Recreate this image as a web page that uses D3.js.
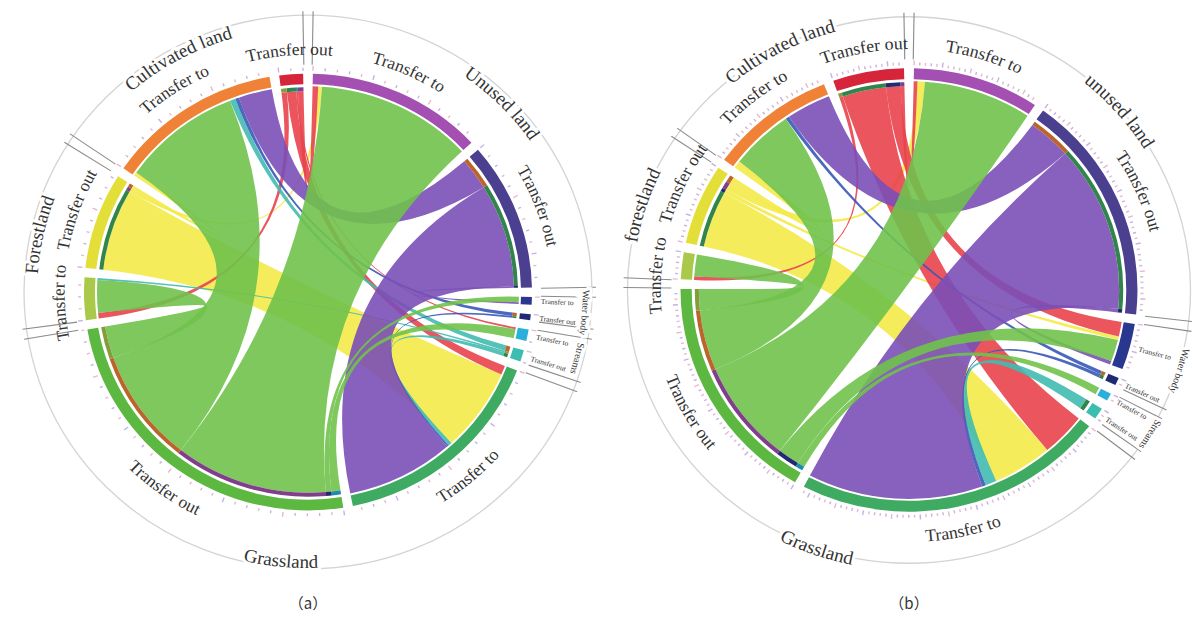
<!DOCTYPE html>
<html>
<head>
<meta charset="utf-8">
<script src="https://cdn.jsdelivr.net/npm/d3@7"></script>
<style>
  body { margin: 0; background: #fff; }
  svg text { font-family: "Liberation Serif", "DejaVu Serif", serif; }
</style>
</head>
<body>
<svg id="chart" width="1192" height="620"></svg>
<script>
// Land-use categories, in clockwise order round each circle.
const landKeys = ["unused", "water", "streams", "grass", "forest", "cult"];
const landNamesA = ["Unused land", "Water body", "Streams", "Grassland", "Forestland", "Cultivated land"];
const landNamesB = ["unused land", "Water body", "Streams", "Grassland", "forestland", "Cultivated land"];
const directions = ["Transfer to", "Transfer out"];
const captions = ["（a）", "（b）"];

// Land transfers: [from land (transfer out), to land (transfer to), area]
const flowsA = [
  ["grass", "unused", 42], ["grass", "cult", 32], ["grass", "forest", 9],
  ["grass", "streams", 2.5], ["grass", "water", 1.5],
  ["unused", "grass", 29], ["unused", "cult", 9], ["unused", "water", 0.5],
  ["forest", "grass", 23], ["forest", "cult", 1], ["forest", "unused", 1],
  ["cult", "grass", 2.5], ["cult", "unused", 1.5], ["cult", "forest", 1.5], ["cult", "streams", 0.5],
  ["water", "grass", 0.5], ["water", "cult", 1],
  ["streams", "grass", 1], ["streams", "cult", 1.5], ["streams", "forest", 0.5]
];
const flowsB = [
  ["grass", "unused", 29], ["grass", "cult", 17], ["grass", "forest", 6],
  ["grass", "water", 6], ["grass", "streams", 2],
  ["unused", "grass", 47], ["unused", "cult", 12], ["unused", "water", 1],
  ["forest", "grass", 16], ["forest", "cult", 2], ["forest", "unused", 2], ["forest", "water", 1],
  ["cult", "grass", 12], ["cult", "water", 4], ["cult", "unused", 1], ["cult", "forest", 1],
  ["water", "grass", 1], ["water", "cult", 1],
  ["streams", "grass", 3]
];

const toColors = { unused: "#a44fb2", water: "#2a3790", streams: "#2bb0dc", grass: "#3fab62", forest: "#aac94a", cult: "#ef8237" };
const outColors = { unused: "#4b3f8f", water: "#1f2b70", streams: "#3bbdb0", grass: "#5cb840", forest: "#e4df38", cult: "#d6243a" };
const ribbonColors = { unused: "#7b4fb6", water: "#3a58b8", streams: "#41bbb0", grass: "#70c24c", forest: "#f4ea4a", cult: "#e8434d" };
const ribbonLayer = ["forest", "cult", "streams", "water", "unused", "grass"];
const smallLands = ["water", "streams"];

const svg = d3.select("#chart");
const TAU = 2 * Math.PI;
let pathId = 0;

const nodeIndex = (land, dir) => landKeys.indexOf(land) * 2 + (dir === "out" ? 1 : 0);
const wrap = x => ((x % TAU) + TAU) % TAU;

// push apart labels that share a ring so that they do not collide
function spread(items, gap) {
  const list = items.slice().sort((p, q) => p.ang - q.ang);
  for (let it = 0; it < 300; it++) {
    let moved = false;
    for (let i = 0; i < list.length; i++) {
      const a = list[i], b = list[(i + 1) % list.length];
      const d = wrap(b.ang - a.ang);
      const need = a.w / 2 + b.w / 2 + gap;
      if (d < need) {
        const m = (need - d) / 2 + 1e-4;
        a.ang -= m; b.ang += m; moved = true;
      }
    }
    if (!moved) break;
  }
  return items;
}

function arcLabel(parent, text, ang, rc, fs, opts = {}) {
  const deg = wrap(ang) * 180 / Math.PI;
  const bottom = !opts.clockwise && deg > 100 && deg < 258;
  const r = bottom ? rc + fs * 0.32 : rc - fs * 0.32;
  const span = 80 * Math.PI / 180;
  const p = t => [r * Math.sin(t), -r * Math.cos(t)];
  let d;
  if (!bottom) {
    const [x0, y0] = p(ang - span), [x1, y1] = p(ang + span);
    d = `M${x0},${y0}A${r},${r} 0 0 1 ${x1},${y1}`;
  } else {
    const [x0, y0] = p(ang + span), [x1, y1] = p(ang - span);
    d = `M${x0},${y0}A${r},${r} 0 0 0 ${x1},${y1}`;
  }
  const id = "lp" + (pathId++);
  parent.append("path").attr("id", id).attr("d", d).attr("fill", "none");
  const layers = opts.halo ? ["halo", "ink"] : ["ink"];
  layers.forEach(layer => {
    const t = parent.append("text").attr("font-size", fs);
    if (layer === "halo") t.attr("fill", "#fff").attr("stroke", "#fff").attr("stroke-width", 6);
    else t.attr("fill", "#333");
    t.append("textPath").attr("href", "#" + id)
      .attr("startOffset", "50%").attr("text-anchor", "middle").text(text);
  });
}

function drawChord(cx, cy, sx, sy, flows, landNames, tickStep, caption, ringR) {
  const R0 = 213, R1 = 224, rRib = 209, rRing = ringR;
  const g = svg.append("g").attr("transform", `translate(${cx},${cy}) scale(${sx},${sy})`);
  const n = landKeys.length * 2;

  const links = flows.map(([from, to, v]) => ({
    from, to, value: v, s: nodeIndex(from, "out"), t: nodeIndex(to, "to")
  }));
  const totals = d3.range(n).map(i => d3.sum(links, l => (l.s === i || l.t === i) ? l.value : 0));
  const pad = 2.5 * Math.PI / 180;
  const k = d3.scaleLinear().domain([0, d3.sum(totals)]).range([0, TAU - n * pad]);

  let a = pad / 2;
  const groups = totals.map((v, i) => {
    const gr = { index: i, land: landKeys[i >> 1], dir: i % 2 ? "out" : "to", value: v,
                 startAngle: a, endAngle: a + k(v) };
    gr.mid = (gr.startAngle + gr.endAngle) / 2;
    a = gr.endAngle + pad;
    return gr;
  });

  // Link order on each sector: outgoing ends follow the partner's position
  // counter-clockwise; incoming ends follow the source sector, last first.
  groups.forEach(gr => {
    let c = gr.startAngle;
    const mine = links.filter(l => l.s === gr.index || l.t === gr.index);
    if (gr.dir === "out") mine.sort((p, q) => wrap(groups[q.t].mid - gr.mid) - wrap(groups[p.t].mid - gr.mid));
    else mine.sort((p, q) => q.s - p.s);
    mine.forEach(l => {
      const e = c + k(l.value);
      if (l.s === gr.index) l.source = { startAngle: c, endAngle: e, radius: rRib - 3 };
      else l.target = { startAngle: c, endAngle: e, radius: rRib + 2 };
      c = e;
    });
  });

  // outer reference ring
  g.append("circle").attr("r", rRing).attr("fill", "none")
    .attr("stroke", "#d4d4d4").attr("stroke-width", 1.3);

  // ribbons
  const ribbon = d3.ribbon();
  const ordered = links.slice().sort((p, q) => ribbonLayer.indexOf(p.from) - ribbonLayer.indexOf(q.from));
  g.append("g").selectAll("path").data(ordered).join("path")
    .attr("d", ribbon)
    .attr("fill", d => ribbonColors[d.from])
    .attr("fill-opacity", 0.9);

  // thin bars at the outgoing end of each link, coloured by destination
  const bar = d3.arc().innerRadius(rRib - 3).outerRadius(rRib + 1);
  g.append("g").selectAll("path").data(links).join("path")
    .attr("d", d => bar(d.source))
    .attr("fill", d => d3.color(toColors[d.to]).darker(0.7));

  // sector arcs
  const arc = d3.arc().innerRadius(R0).outerRadius(R1);
  g.append("g").selectAll("path").data(groups).join("path")
    .attr("d", arc)
    .attr("fill", d => d.dir === "to" ? toColors[d.land] : outColors[d.land]);

  // ticks
  const ticks = groups.flatMap(gr => d3.range(0, gr.value + 1e-6, tickStep)
    .map((v, j) => ({ ang: gr.startAngle + k(v), major: j % 5 === 0 })));
  g.append("g").selectAll("line").data(ticks).join("line")
    .attr("x1", d => (R1 + 3) * Math.sin(d.ang)).attr("y1", d => -(R1 + 3) * Math.cos(d.ang))
    .attr("x2", d => (R1 + (d.major ? 8 : 6)) * Math.sin(d.ang))
    .attr("y2", d => -(R1 + (d.major ? 8 : 6)) * Math.cos(d.ang))
    .attr("stroke", (d, i) => i % 2 ? "#c4b2e6" : "#e6b9d0").attr("stroke-width", 1.4);

  // label brackets for every land type
  const lands = landKeys.map((key, i) => ({
    key, name: landNames[i],
    start: groups[2 * i].startAngle, end: groups[2 * i + 1].endAngle
  }));
  const seps = lands.flatMap(l => [l.start - 0.004, l.end + 0.004]);
  g.append("g").selectAll("line").data(seps).join("line")
    .attr("x1", d => (R1 + 9) * Math.sin(d)).attr("y1", d => -(R1 + 9) * Math.cos(d))
    .attr("x2", d => (rRing + 4) * Math.sin(d)).attr("y2", d => -(rRing + 4) * Math.cos(d))
    .attr("stroke", "#8a8a8a").attr("stroke-width", 1.1);

  // land-type labels (drawn first so their halos sit under the sector labels)
  lands.filter(l => !smallLands.includes(l.key)).forEach(l => {
    arcLabel(g, l.name, (l.start + l.end) / 2, 277, 19, { halo: true });
  });
  const smallR = R1 + 54, smallFs = 10;
  const smallLabels = lands.filter(l => smallLands.includes(l.key)).map(l => ({
    text: l.name, ang: (l.start + l.end) / 2, w: l.name.length * 0.46 * smallFs / smallR
  }));
  spread(smallLabels, 0.01).forEach(l => arcLabel(g, l.text, l.ang, smallR, smallFs, { clockwise: true, halo: true }));

  // sector labels
  const segR = 249, segFs = 17.5;
  const segLabels = groups.filter(gr => !smallLands.includes(gr.land)).map(gr => {
    const text = gr.dir === "to" ? directions[0] : directions[1];
    return { text, ang: gr.mid, w: text.length * 0.46 * segFs / segR };
  });
  spread(segLabels, 0.02).forEach(l => arcLabel(g, l.text, l.ang, segR, segFs));

  groups.filter(gr => smallLands.includes(gr.land)).forEach(gr => {
    const text = gr.dir === "to" ? directions[0] : directions[1];
    const deg = gr.mid * 180 / Math.PI;
    g.append("text")
      .attr("transform", `rotate(${deg - 90}) translate(${R1 + 9},0)`)
      .attr("dy", "0.35em").attr("font-size", 7.5).attr("fill", "#333").text(text);
  });

  svg.append("text").attr("x", cx).attr("y", 609).attr("text-anchor", "middle")
    .attr("font-size", 15).attr("fill", "#333")
    .style("font-family", "'Noto Sans CJK SC', 'Liberation Serif', serif").text(caption);
}

drawChord(308, 292, 1.0, 0.975, flowsA, landNamesA, 3, captions[0], 284);
drawChord(909, 290, 1.02, 0.99, flowsB, landNamesB, 1.4, captions[1], 276);
</script>
</body>
</html>
